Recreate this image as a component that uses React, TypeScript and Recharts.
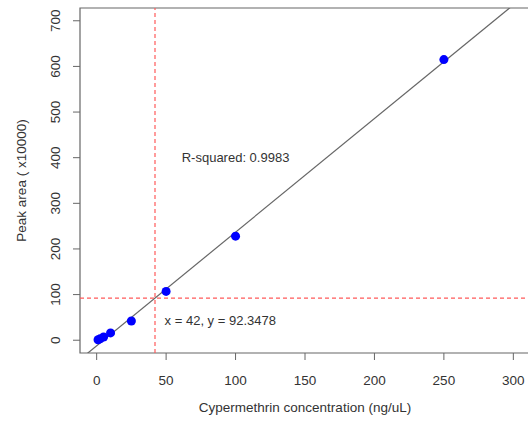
import { ComposedChart, Scatter, XAxis, YAxis, ReferenceLine, ReferenceArea, ReferenceDot } from "recharts";

// calibration standards (ng/uL) and measured peak area (x10000)
const concentrations = [1, 2.5, 5, 10, 25, 50, 100, 250];
const peakAreas = [1, 3, 7, 16, 42, 107, 228, 615];

const xTicks = [0, 50, 100, 150, 200, 250, 300];
const yTicks = [0, 100, 200, 300, 400, 500, 600, 700];

// fitted line and the marked sample
const fitSlope = 2.49;
const fitIntercept = -12.2322;
const markX = 42;
const markY = 92.3478;
const rSquared = "0.9983";

// R-style axis limits (4% padding around 0..300 and 0..700)
const X_DOMAIN = [-12, 312];
const Y_DOMAIN = [-28, 728];

const FONT = "'Liberation Sans', Arial, sans-serif";
const TEXT = "#333";
const LINE = "#666";
const RED = "#ff5a5a";

const points = concentrations.map((x, i) => ({ x, y: peakAreas[i] }));

const YTick = ({ x, y, payload }: any) => {
  const bx = x - 11;
  return (
    <text x={bx} y={y} transform={`rotate(-90, ${bx}, ${y})`} textAnchor="middle"
      fontSize={13.5} fill={TEXT} fontFamily={FONT}>
      {payload.value}
    </text>
  );
};

export default function App() {
  const fitAt = (x: number) => fitIntercept + fitSlope * x;

  return (
    <div style={{ position: "absolute", left: 0, top: 0, width: 528, height: 424, overflow: "hidden", background: "#fff" }}>
      <ComposedChart width={540} height={424} margin={{ top: 8, right: 10, bottom: 0, left: 0 }}>
        <XAxis
          type="number"
          dataKey="x"
          domain={X_DOMAIN}
          ticks={xTicks}
          allowDataOverflow
          axisLine={false}
          tickLine={{ stroke: LINE }}
          tickSize={7}
          tickMargin={15}
          height={71}
          tick={{ fontSize: 13.5, fill: TEXT, fontFamily: FONT }}
          label={{ value: "Cypermethrin concentration (ng/uL)", position: "insideBottom", offset: 12, fontSize: 13.5, fill: TEXT, fontFamily: FONT }}
        />
        <YAxis
          type="number"
          dataKey="y"
          domain={Y_DOMAIN}
          ticks={yTicks}
          allowDataOverflow
          axisLine={false}
          tickLine={{ stroke: LINE }}
          tickSize={7}
          width={80}
          tick={<YTick />}
          label={{ value: "Peak area ( x10000)", angle: -90, position: "insideLeft", offset: 21, fontSize: 13.5, fill: TEXT, fontFamily: FONT, style: { textAnchor: "middle" } }}
        />
        <ReferenceArea x1={X_DOMAIN[0]} x2={X_DOMAIN[1]} y1={Y_DOMAIN[0]} y2={Y_DOMAIN[1]} fill="none" stroke={LINE} strokeWidth={1.2} ifOverflow="visible" />
        <ReferenceLine
          segment={[{ x: X_DOMAIN[0], y: fitAt(X_DOMAIN[0]) }, { x: X_DOMAIN[1], y: fitAt(X_DOMAIN[1]) }]}
          stroke="#666"
          strokeWidth={1.2}
          ifOverflow="hidden"
        />
        <ReferenceLine x={markX} stroke={RED} strokeDasharray="4 3" strokeWidth={1.2} />
        <ReferenceLine y={markY} stroke={RED} strokeDasharray="4 3" strokeWidth={1.2} />
        <Scatter data={points} dataKey="y" fill="#0000ff" isAnimationActive={false} />
        <ReferenceDot x={100} y={400} r={0} stroke="none" fill="none"
          label={{ value: `R-squared: ${rSquared}`, position: "center", fontSize: 13, fill: TEXT, fontFamily: FONT }} />
        <ReferenceDot x={89} y={44} r={0} stroke="none" fill="none"
          label={{ value: `x = ${markX}, y = ${markY}`, position: "center", fontSize: 13, fill: TEXT, fontFamily: FONT }} />
      </ComposedChart>
    </div>
  );
}
